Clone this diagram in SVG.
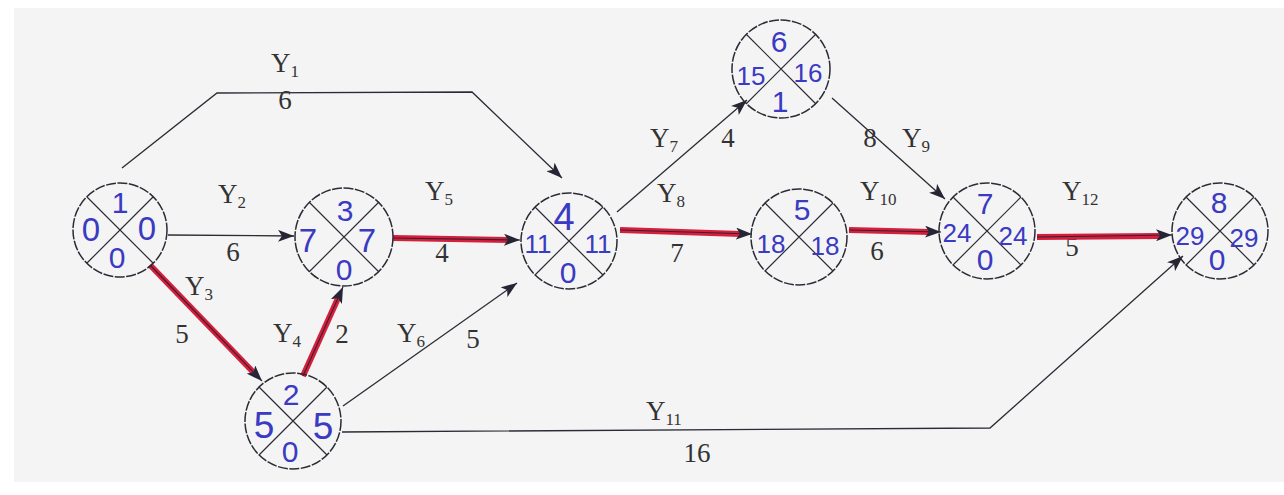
<svg xmlns="http://www.w3.org/2000/svg" width="1284" height="495" viewBox="0 0 1284 495">
<defs>
<style>
.circ{fill:none;stroke:#2b2b35;stroke-width:1.5;stroke-dasharray:10 1.5}
.x{stroke:#2b2b35;stroke-width:1.2}
.n{font-family:"Liberation Sans",Arial,sans-serif;fill:#3a3ac2;text-anchor:middle}
.t{font-size:30px}
.s{font-size:33px}
.d{font-size:26px}
.b{font-size:30px}
.e{fill:none;stroke:#2b2b35;stroke-width:1.3}
.r{fill:none;stroke:#d41f3d;stroke-width:6}
.ri{fill:none;stroke:#3a2030;stroke-width:1.1}
.lab{font-family:"Liberation Serif","Times New Roman",serif;font-size:27px;fill:#333}
.sub{font-size:17px}
</style>
<marker id="ah" markerUnits="userSpaceOnUse" markerWidth="18" markerHeight="12" refX="16" refY="6" orient="auto">
<path d="M0,0 L16,6 L0,12 L4,6 Z" fill="#252535"/>
</marker>
</defs>
<rect width="1284" height="495" fill="#ffffff"/>
<rect x="14" y="8" width="1270" height="474" fill="#f4f4f4"/>

<g id="connectors">
<g id="Y1"><path class="e" d="M122,168 L217,93 L472,92 L562,178" marker-end="url(#ah)"/>
<text class="lab" x="271" y="72">Y<tspan class="sub" dy="5">1</tspan></text>
<text class="lab" x="285" y="109" text-anchor="middle">6</text></g>
<g id="Y2"><path class="e" d="M168,235 L294,236" marker-end="url(#ah)"/>
<text class="lab" x="218" y="203">Y<tspan class="sub" dy="5">2</tspan></text>
<text class="lab" x="233" y="261" text-anchor="middle">6</text></g>
<g id="Y3"><path class="r" d="M150,265 L255,374"/><path class="ri" d="M150,265 L262,381" marker-end="url(#ah)"/>
<text class="lab" x="185" y="295">Y<tspan class="sub" dy="5">3</tspan></text>
<text class="lab" x="182" y="343" text-anchor="middle">5</text></g>
<g id="Y4"><path class="r" d="M303,376 L339,296"/><path class="ri" d="M303,376 L343,287" marker-end="url(#ah)"/>
<text class="lab" x="273" y="342">Y<tspan class="sub" dy="5">4</tspan></text>
<text class="lab" x="342" y="343" text-anchor="middle">2</text></g>
<g id="Y5"><path class="r" d="M393,238 L509,240"/><path class="ri" d="M393,238 L520,240" marker-end="url(#ah)"/>
<text class="lab" x="425" y="200">Y<tspan class="sub" dy="5">5</tspan></text>
<text class="lab" x="442" y="262" text-anchor="middle">4</text></g>
<g id="Y6"><path class="e" d="M343,406 L517,283" marker-end="url(#ah)"/>
<text class="lab" x="397" y="342">Y<tspan class="sub" dy="5">6</tspan></text>
<text class="lab" x="473" y="348" text-anchor="middle">5</text></g>
<g id="Y7"><path class="e" d="M617,212 L747,100" marker-end="url(#ah)"/>
<text class="lab" x="650" y="147">Y<tspan class="sub" dy="5">7</tspan></text>
<text class="lab" x="728" y="147" text-anchor="middle">4</text></g>
<g id="Y8"><path class="r" d="M620,230 L741,234"/><path class="ri" d="M620,230 L752,234" marker-end="url(#ah)"/>
<text class="lab" x="657" y="202">Y<tspan class="sub" dy="5">8</tspan></text>
<text class="lab" x="677" y="262" text-anchor="middle">7</text></g>
<g id="Y9"><path class="e" d="M832,98 L945,199" marker-end="url(#ah)"/>
<text class="lab" x="870" y="147" text-anchor="middle">8</text>
<text class="lab" x="902" y="147">Y<tspan class="sub" dy="5">9</tspan></text></g>
<g id="Y10"><path class="r" d="M849,230 L930,232"/><path class="ri" d="M849,230 L941,232" marker-end="url(#ah)"/>
<text class="lab" x="860" y="200">Y<tspan class="sub" dy="5">10</tspan></text>
<text class="lab" x="877" y="260" text-anchor="middle">6</text></g>
<g id="Y11"><path class="e" d="M342,432 L990,428 L1183,256" marker-end="url(#ah)"/>
<text class="lab" x="646" y="420">Y<tspan class="sub" dy="5">11</tspan></text>
<text class="lab" x="697" y="462" text-anchor="middle">16</text></g>
<g id="Y12"><text class="lab" x="1072" y="256" text-anchor="middle">5</text>
<path class="r" d="M1037,237 L1160,236"/><path class="ri" d="M1037,237 L1172,235" marker-end="url(#ah)"/>
<text class="lab" x="1062" y="200">Y<tspan class="sub" dy="5">12</tspan></text></g>
</g>

<g id="node1"><circle class="circ" cx="120" cy="230" r="47"/>
<path class="x" d="M87,197 L153,263 M153,197 L87,263"/>
<text class="n t" x="120" y="213">1</text><text class="n s" x="91" y="241">0</text><text class="n s" x="147" y="240">0</text><text class="n b" x="117" y="268">0</text></g>

<g id="node2"><circle class="circ" cx="293" cy="421" r="48"/>
<path class="x" d="M259,387 L327,455 M327,387 L259,455"/>
<text class="n t" x="291" y="405">2</text><text class="n" style="font-size:37px" x="264" y="438">5</text><text class="n" style="font-size:37px" x="323" y="439">5</text><text class="n b" x="290" y="462">0</text></g>

<g id="node3"><circle class="circ" cx="344" cy="237" r="49"/>
<path class="x" d="M309,202 L379,272 M379,202 L309,272"/>
<text class="n t" x="345" y="221">3</text><text class="n s" x="308" y="252">7</text><text class="n s" x="367" y="252">7</text><text class="n b" x="344" y="280">0</text></g>

<g id="node4"><circle class="circ" cx="569" cy="241" r="48"/>
<path class="x" d="M535,207 L603,275 M603,207 L535,275"/>
<text class="n" style="font-size:38px" x="564" y="230">4</text><text class="n d" x="538" y="253">11</text><text class="n d" x="598" y="253">11</text><text class="n b" x="568" y="283">0</text></g>

<g id="node6"><circle class="circ" cx="781" cy="69" r="49"/>
<path class="x" d="M746,34 L816,104 M816,34 L746,104"/>
<text class="n t" x="779" y="52">6</text><text class="n d" x="751" y="85">15</text><text class="n d" x="808" y="82">16</text><text class="n t" x="780" y="112">1</text></g>

<g id="node5"><circle class="circ" cx="799" cy="237" r="48"/>
<path class="x" d="M765,203 L833,271 M833,203 L765,271"/>
<text class="n t" x="802" y="220">5</text><text class="n d" x="771" y="253">18</text><text class="n d" x="825" y="255">18</text></g>

<g id="node7"><circle class="circ" cx="987" cy="231" r="48"/>
<path class="x" d="M953,197 L1021,265 M1021,197 L953,265"/>
<text class="n t" x="985" y="214">7</text><text class="n d" x="957" y="242">24</text><text class="n d" x="1013" y="245">24</text><text class="n b" x="985" y="270">0</text></g>

<g id="node8"><circle class="circ" cx="1220" cy="231" r="48"/>
<path class="x" d="M1186,197 L1254,265 M1254,197 L1186,265"/>
<text class="n t" x="1219" y="213">8</text><text class="n d" x="1190" y="245">29</text><text class="n d" x="1244" y="247">29</text><text class="n b" x="1217" y="270">0</text></g>
</svg>
